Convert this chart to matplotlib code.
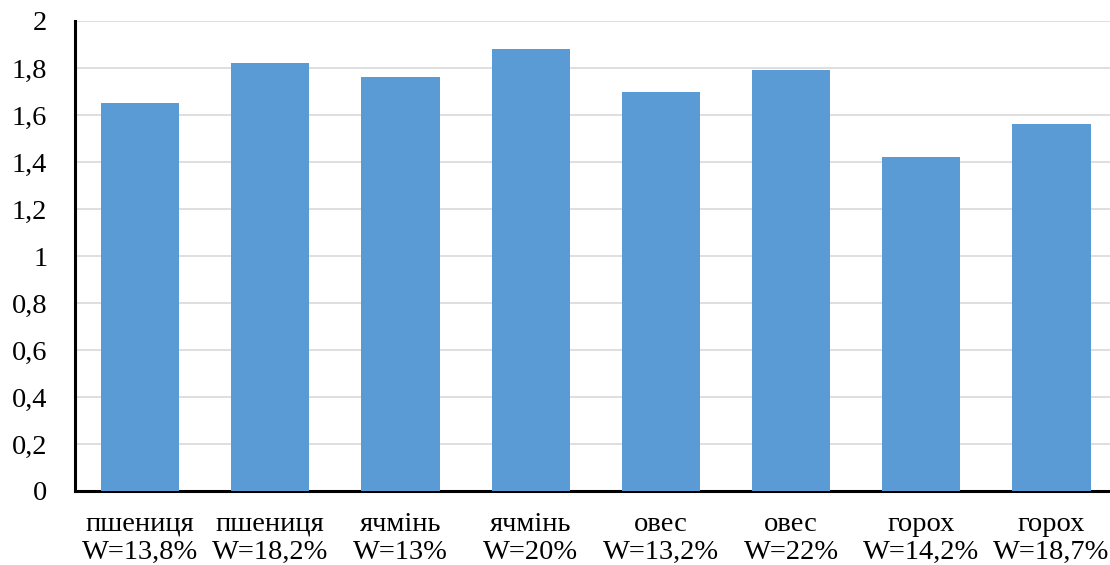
import matplotlib
matplotlib.use("Agg")
import matplotlib.pyplot as plt
import numpy as np

categories = ["пшениця\nW=13,8%", "пшениця\nW=18,2%", "ячмінь\nW=13%", "ячмінь\nW=20%",
              "овес\nW=13,2%", "овес\nW=22%", "горох\nW=14,2%", "горох\nW=18,7%"]
values = [1.65, 1.82, 1.76, 1.88, 1.70, 1.79, 1.42, 1.56]
y_ticks = [0, 0.2, 0.4, 0.6, 0.8, 1.0, 1.2, 1.4, 1.6, 1.8, 2.0]
y_tick_labels = ["0", "0,2", "0,4", "0,6", "0,8", "1", "1,2", "1,4", "1,6", "1,8", "2"]

plt.rcParams['font.family'] = ['Liberation Serif', 'DejaVu Serif']

W, H = 1110, 565
fig = plt.figure(figsize=(W / 100, H / 100), dpi=100)
left, right, top, bottom = 75, 1116.6, 21, 491
ax = fig.add_axes([left / W, 1 - bottom / H, (right - left) / W, (bottom - top) / H])

x = np.arange(len(categories))
ax.bar(x, values, width=0.6, color="#5B9BD5", zorder=3)

ax.set_xlim(-0.5, len(categories) - 0.5)
ax.set_ylim(0, 2)
ax.set_yticks(y_ticks)
ax.set_yticklabels(y_tick_labels)
ax.set_xticks(x)
ax.set_xticklabels(categories, linespacing=1.15)

ax.yaxis.grid(True, color="#d9d9d9", linewidth=1.2, zorder=0)
ax.set_axisbelow(True)
for side in ("top", "right"):
    ax.spines[side].set_visible(False)
ax.spines["left"].set_linewidth(2.2)
ax.spines["bottom"].set_linewidth(2.2)
ax.spines["left"].set_color("black")
ax.spines["bottom"].set_color("black")

ax.tick_params(axis="y", length=0, pad=20, labelsize=20.5)
ax.tick_params(axis="x", length=0, pad=15, labelsize=20.5)

fig.savefig("out.png", dpi=100, facecolor="white")
